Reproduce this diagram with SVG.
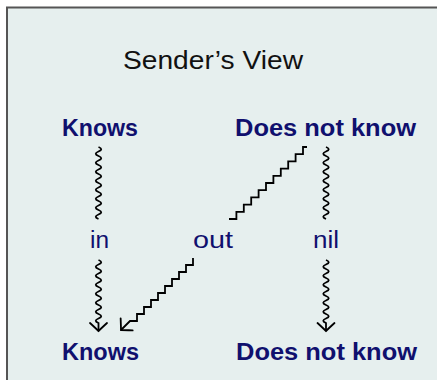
<svg xmlns="http://www.w3.org/2000/svg" width="437" height="380" viewBox="0 0 437 380">
<defs>
<marker id="to" markerUnits="userSpaceOnUse" markerWidth="20" markerHeight="20" viewBox="-10 -10 20 20" refX="0" refY="0" orient="auto">
<path d="M-8,-8.5 Q-2,-2 0,0 Q-2,2 -8,8.5" fill="none" stroke="#000" stroke-width="1.8" stroke-linecap="round"/>
</marker>
</defs>
<style>
.frame{fill:#e6efee;stroke:#555;stroke-width:2}
.title{font-family:"Liberation Sans",Arial,sans-serif;font-size:25px;fill:#111}
.node{font-family:"Liberation Sans",Arial,sans-serif;font-size:23px;font-weight:bold;fill:#10106e}
.lbl{font-family:"Liberation Sans",Arial,sans-serif;font-size:23px;fill:#10106e}
.w{fill:none;stroke:#000;stroke-width:1.8;stroke-linejoin:miter}
</style>
<rect class="frame" x="7" y="7.5" width="440" height="380"/>
<text class="title" x="123" y="69" textLength="180" lengthAdjust="spacingAndGlyphs">Sender’s View</text>
<g id="knows-top"><text class="node" x="62" y="136" textLength="76" lengthAdjust="spacingAndGlyphs">Knows</text></g>
<g id="dnk-top"><text class="node" x="235" y="136" textLength="181" lengthAdjust="spacingAndGlyphs">Does not know</text></g>
<g id="knows-bottom"><text class="node" x="62" y="360" textLength="77" lengthAdjust="spacingAndGlyphs">Knows</text></g>
<g id="dnk-bottom"><text class="node" x="236" y="360" textLength="181" lengthAdjust="spacingAndGlyphs">Does not know</text></g>
<g id="connectors">
<path class="w" d="M98.5 147 q5.5 2.25 0 4.5 q-5.5 2.25 0 4.5 q5.5 2.25 0 4.5 q-5.5 2.25 0 4.5 q5.5 2.25 0 4.5 q-5.5 2.25 0 4.5 q5.5 2.25 0 4.5 q-5.5 2.25 0 4.5 q5.5 2.25 0 4.5 q-5.5 2.25 0 4.5 q5.5 2.25 0 4.5 q-5.5 2.25 0 4.5 q5.5 2.25 0 4.5 q-5.5 2.25 0 4.5 q5.5 2.25 0 4.5 q-5.5 2.25 0 4.5"/>
<path class="w" d="M98.5 260 q5.5 2.25 0 4.5 q-5.5 2.25 0 4.5 q5.5 2.25 0 4.5 q-5.5 2.25 0 4.5 q5.5 2.25 0 4.5 q-5.5 2.25 0 4.5 q5.5 2.25 0 4.5 q-5.5 2.25 0 4.5 q5.5 2.25 0 4.5 q-5.5 2.25 0 4.5 q5.5 2.25 0 4.5 q-5.5 2.25 0 4.5 q5.5 2.25 0 4.5 q-5.5 2.25 0 4.5 l0 8" marker-end="url(#to)"/>
<text class="lbl" x="90" y="248" textLength="19" lengthAdjust="spacingAndGlyphs">in</text>
<path class="w" d="M326 147 q5.5 2.25 0 4.5 q-5.5 2.25 0 4.5 q5.5 2.25 0 4.5 q-5.5 2.25 0 4.5 q5.5 2.25 0 4.5 q-5.5 2.25 0 4.5 q5.5 2.25 0 4.5 q-5.5 2.25 0 4.5 q5.5 2.25 0 4.5 q-5.5 2.25 0 4.5 q5.5 2.25 0 4.5 q-5.5 2.25 0 4.5 q5.5 2.25 0 4.5 q-5.5 2.25 0 4.5 q5.5 2.25 0 4.5 q-5.5 2.25 0 4.5"/>
<path class="w" d="M326 260 q5.5 2.25 0 4.5 q-5.5 2.25 0 4.5 q5.5 2.25 0 4.5 q-5.5 2.25 0 4.5 q5.5 2.25 0 4.5 q-5.5 2.25 0 4.5 q5.5 2.25 0 4.5 q-5.5 2.25 0 4.5 q5.5 2.25 0 4.5 q-5.5 2.25 0 4.5 q5.5 2.25 0 4.5 q-5.5 2.25 0 4.5 q5.5 2.25 0 4.5 q-5.5 2.25 0 4.5 l0 8" marker-end="url(#to)"/>
<text class="lbl" x="313" y="248" textLength="26" lengthAdjust="spacingAndGlyphs">nil</text>
<path class="w" d="M307 147 h-4 v7.2 h-7.4 v7.2 h-7.4 v7.2 h-7.4 v7.2 h-7.4 v7.2 h-7.4 v7.2 h-7.4 v7.2 h-7.4 v7.2 h-7.4 v7.2 h-7.4 v7.2 h-7.4"/>
<path class="w" d="M193 258 v7 h-7 v7 h-7 v7 h-7 v7 h-7 v7 h-7 v7 h-7 v7 h-7 v7 h-7 v7 h-7 l-9 9" marker-end="url(#to)"/>
<text class="lbl" x="193" y="248" textLength="40" lengthAdjust="spacingAndGlyphs">out</text>
</g>
</svg>
